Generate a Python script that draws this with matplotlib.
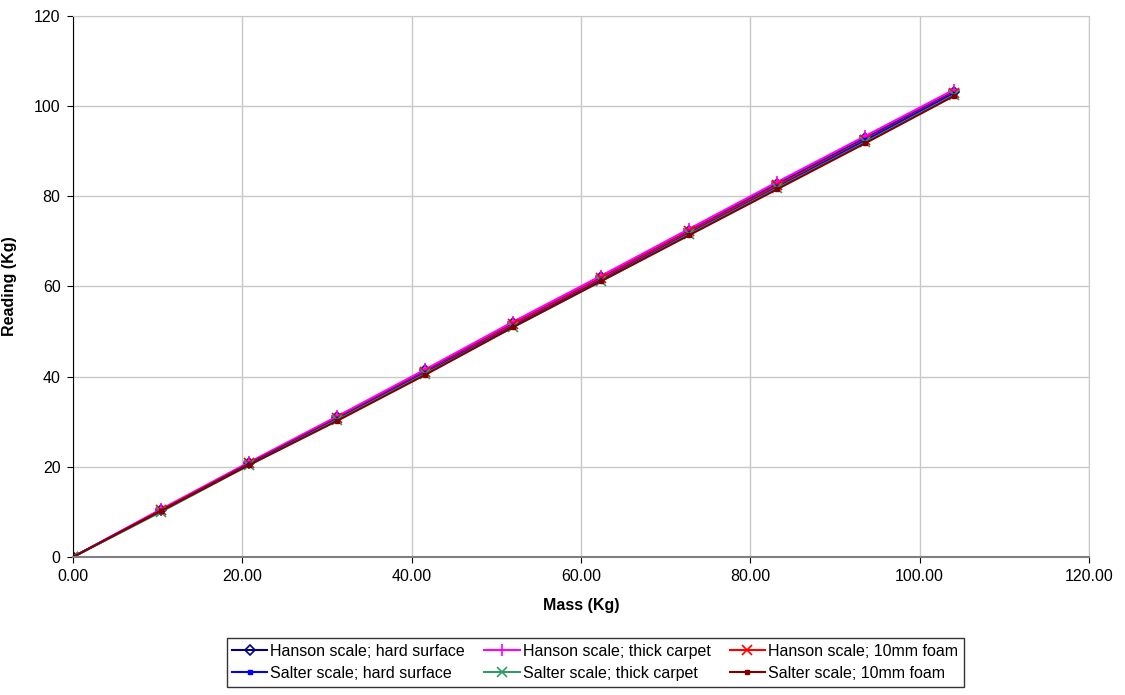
import matplotlib
matplotlib.use('Agg')
import matplotlib.pyplot as plt
from matplotlib.ticker import FormatStrFormatter

plt.rcParams['font.family'] = ['Liberation Sans', 'DejaVu Sans']

# Data
mass = [0, 10.4, 20.8, 31.2, 41.6, 52.0, 62.4, 72.8, 83.2, 93.6, 104.0]
hanson_hard = [0, 10.4, 20.8, 31.0, 41.4, 51.8, 62.0, 72.4, 82.8, 93.0, 103.2]
hanson_carpet = [0, 10.6, 21.0, 31.2, 41.6, 52.2, 62.4, 72.8, 83.2, 93.4, 103.6]
hanson_foam = [0, 10.4, 20.8, 30.8, 41.0, 51.6, 61.8, 72.2, 82.4, 92.6, 103.0]
salter_hard = [0, 10.2, 20.6, 30.6, 40.8, 51.2, 61.4, 71.8, 82.0, 92.4, 102.8]
salter_carpet = [0, 10.0, 20.4, 30.4, 40.6, 51.0, 61.2, 71.6, 81.8, 92.0, 102.4]
salter_foam = [0, 10.2, 20.4, 30.2, 40.4, 51.0, 61.2, 71.4, 81.6, 91.8, 102.2]

fs = 11.5

fig = plt.figure(figsize=(11.25, 6.95), dpi=100)
ax = fig.add_axes([0.0649, 0.1986, 0.9031, 0.7784])

lw = 1.5
h1, = ax.plot(mass, hanson_hard, color='#000080', marker='D', ms=5, mfc='none', mew=1.2, lw=lw, label='Hanson scale; hard surface')
h2, = ax.plot(mass, hanson_carpet, color='#FF00FF', marker='+', ms=8, mew=1.2, lw=lw, label='Hanson scale; thick carpet')
h3, = ax.plot(mass, hanson_foam, color='#FF0000', marker='x', ms=7, mew=1.2, lw=lw, label='Hanson scale; 10mm foam')
s1, = ax.plot(mass, salter_hard, color='#0000FF', marker='s', ms=3, lw=lw, label='Salter scale; hard surface')
s2, = ax.plot(mass, salter_carpet, color='#339966', marker='x', ms=7, mew=1.2, lw=lw, label='Salter scale; thick carpet')
s3, = ax.plot(mass, salter_foam, color='#800000', marker='s', ms=3, lw=lw, label='Salter scale; 10mm foam')

ax.set_xlim(0, 120)
ax.set_ylim(0, 120)
ax.set_xticks(range(0, 121, 20))
ax.set_yticks(range(0, 121, 20))
ax.xaxis.set_major_formatter(FormatStrFormatter('%.2f'))
ax.grid(True, color='#C8C8C8', lw=1)
ax.set_axisbelow(True)

for side in ('top', 'right'):
    ax.spines[side].set_color('#C8C8C8')
ax.spines['left'].set_color('black')
ax.spines['bottom'].set_color('#808080')
ax.spines['bottom'].set_linewidth(1.5)
ax.tick_params(labelsize=fs, length=4, direction='out', pad=5)

ax.set_xlabel('Mass (Kg)', fontsize=fs, fontweight='bold', labelpad=10)
ax.set_ylabel('Reading (Kg)', fontsize=fs, fontweight='bold', labelpad=12)

handles = [h1, s1, h2, s2, h3, s3]
fig.legend(handles=handles, labels=[h.get_label() for h in handles], ncol=3,
           loc='center', bbox_to_anchor=(0.529, 0.047), fontsize=fs,
           frameon=True, fancybox=False, edgecolor='black', handlelength=2.2,
           handletextpad=0.2, columnspacing=1.2, borderpad=0.35, labelspacing=0.45)

fig.savefig('out.png', dpi=100)
